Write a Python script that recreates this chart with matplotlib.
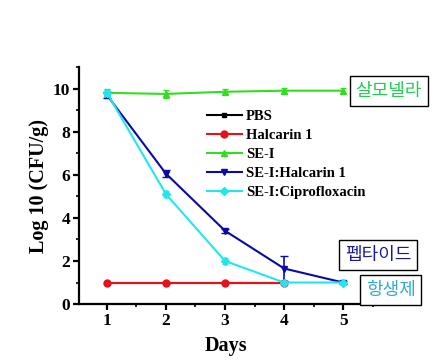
import numpy as np
from matplotlib import pyplot as plt
from matplotlib.ticker import MultipleLocator

days = [1, 2, 3, 4, 5]
pbs = [1.0, 1.0, 1.0, 1.0]
halcarin = [1.0, 1.0, 1.0, 1.0]
se_i = [9.8, 9.75, 9.85, 9.9, 9.9]
se_i_err = [0.2, 0.2, 0.12, 0.12, 0.12]
se_hal = [9.7, 6.05, 3.4, 1.65, 1.0]
se_hal_err = [0.15, 0.15, 0.1, 0.6, 0.05]
se_cip = [9.8, 5.1, 2.0, 1.0, 1.0]
se_cip_err = [0.15, 0.15, 0.15, 0.05, 0.05]

plt.rcParams['font.family'] = ['Liberation Serif', 'DejaVu Sans']

fig = plt.figure(figsize=(4.37, 3.62), dpi=100)
ax = fig.add_axes([0.181, 0.160, 0.672, 0.655])

ax.plot(days[:4], pbs, '-s', color='black', ms=3, lw=1.5, label='PBS')
ax.plot(days[:4], halcarin, '-o', color='#e8101a', ms=5, lw=1.5, label='Halcarin 1')
ax.plot(days, se_i, '-^', color='#33dd22', ms=4, lw=1.5, label='SE-I')
ax.errorbar(days, se_i, yerr=se_i_err, fmt='none', ecolor='#33dd22', lw=1.2, capsize=2)
ax.plot(days, se_hal, '-v', color='#0a0aa8', ms=5, lw=1.5, label='SE-I:Halcarin 1')
ax.errorbar(days, se_hal, yerr=se_hal_err, fmt='none', ecolor='#0a0aa8', lw=1.2, capsize=3)
ax.plot(days, se_cip, '-D', color='#22e6ee', ms=4, lw=1.5, label='SE-I:Ciprofloxacin')
ax.errorbar(days, se_cip, yerr=se_cip_err, fmt='none', ecolor='#22e6ee', lw=1.2, capsize=2)

ax.set_xlim(0.53, 5.5)
ax.set_ylim(0, 11)
ax.xaxis.set_major_locator(MultipleLocator(1))
ax.xaxis.set_minor_locator(MultipleLocator(0.5))
ax.yaxis.set_major_locator(MultipleLocator(2))
ax.yaxis.set_minor_locator(MultipleLocator(1))
ax.spines['top'].set_visible(False)
ax.spines['right'].set_visible(False)
ax.spines['left'].set_linewidth(1.6)
ax.spines['bottom'].set_linewidth(1.6)
ax.tick_params(which='major', direction='out', length=4, width=1.6, labelsize=12.5, pad=2.5)
ax.tick_params(which='minor', direction='out', length=2, width=1.2)
for lab in ax.get_xticklabels() + ax.get_yticklabels():
    lab.set_fontweight('bold')

ax.set_xlabel('Days', fontsize=14.5, fontweight='bold', labelpad=5)
ax.set_ylabel('Log 10 (CFU/g)', fontsize=14.5, fontweight='bold', labelpad=3)

leg = ax.legend(loc='upper left', bbox_to_anchor=(0.39, 0.875), frameon=False,
                prop={'weight': 'bold', 'size': 10.5}, handlelength=2.4,
                handletextpad=0.3, labelspacing=0.4)

kfont = ['Noto Sans CJK KR', 'DejaVu Sans']
box = dict(boxstyle='square,pad=0.32', fc='white', ec='black', lw=1)
fig.text(0.890, 0.749, '살모넬라', color='#22cc55', fontsize=13, family=kfont,
         ha='center', va='center', bbox=box)
fig.text(0.865, 0.296, '펩타이드', color='#1a1a99', fontsize=13, family=kfont,
         ha='center', va='center', bbox=box)
fig.text(0.894, 0.199, '항생제', color='#33aacc', fontsize=13, family=kfont,
         ha='center', va='center', bbox=box)

plt.savefig('out.png', dpi=100)
